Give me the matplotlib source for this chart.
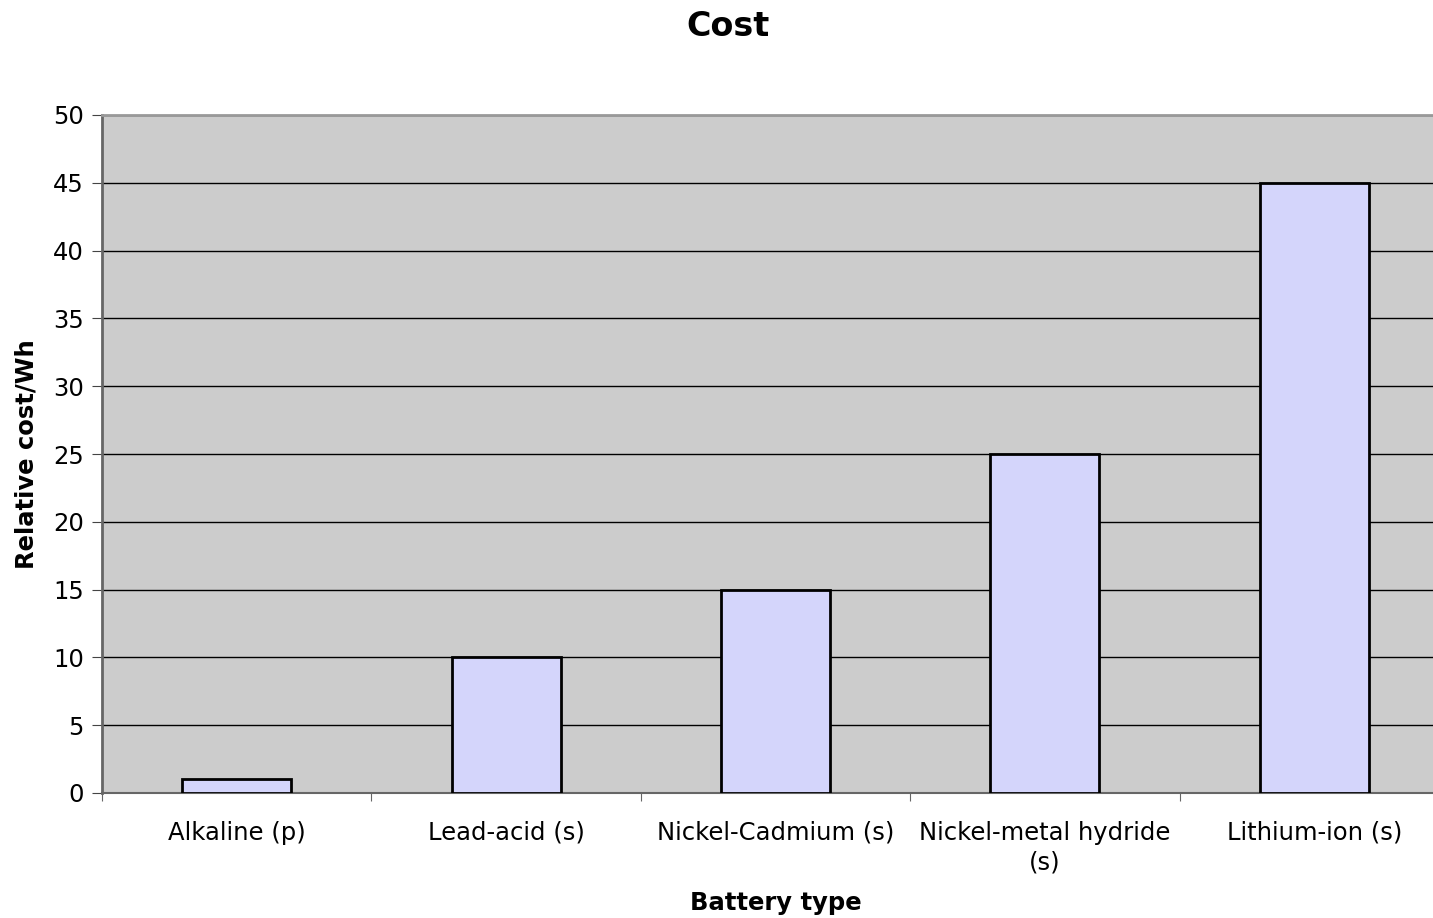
import matplotlib.pyplot as plt
import numpy as np

categories = ["Alkaline (p)", "Lead-acid (s)", "Nickel-Cadmium (s)",
              "Nickel-metal hydride\n(s)", "Lithium-ion (s)"]
cost = [1, 10, 15, 25, 45]
y_ticks = [0, 5, 10, 15, 20, 25, 30, 35, 40, 45, 50]

fig = plt.figure(figsize=(14.33, 9.18), dpi=100)
ax = fig.add_axes([102 / 1433, 125 / 918, 1347 / 1433, 678 / 918])
ax.set_facecolor("#cccccc")

x = np.arange(len(categories))
ax.bar(x, cost, width=0.405, color="#d4d5fb", edgecolor="black", linewidth=2, zorder=3)

ax.set_xlim(-0.5, len(categories) - 0.5)
ax.set_ylim(0, 50)
ax.set_yticks(y_ticks)
ax.yaxis.grid(True, color="black", linewidth=1, zorder=1)
ax.set_axisbelow(True)

# category labels between the boundary ticks
ax.set_xticks(np.arange(len(categories) + 1) - 0.5)
ax.set_xticklabels([])
ax.set_xticks(x, minor=True)
ax.set_xticklabels(categories, minor=True, fontsize=17.5, linespacing=1.3)
ax.tick_params(axis="x", which="minor", length=0, pad=20)
ax.tick_params(axis="x", which="major", length=6, color="#666666")
ax.tick_params(axis="y", length=7, color="#444444", labelsize=17.5, pad=6)

ax.spines["right"].set_visible(False)
ax.spines["top"].set_color("#999999")
ax.spines["top"].set_linewidth(2)
ax.spines["left"].set_color("#666666")
ax.spines["left"].set_linewidth(2)
ax.spines["bottom"].set_color("#666666")
ax.spines["bottom"].set_linewidth(1.5)

ax.set_ylabel("Relative cost/Wh", fontsize=17.5, fontweight="bold")
ax.yaxis.set_label_coords(-(102 - 39) / 1347, 0.5)
fig.text(776 / 1433, 1 - 903 / 918, "Battery type", fontsize=17.5, fontweight="bold",
         ha="center", va="center")
fig.text(728 / 1433, 1 - 26 / 918, "Cost", fontsize=24, fontweight="bold",
         ha="center", va="center")

fig.savefig("out.png", dpi=100)
